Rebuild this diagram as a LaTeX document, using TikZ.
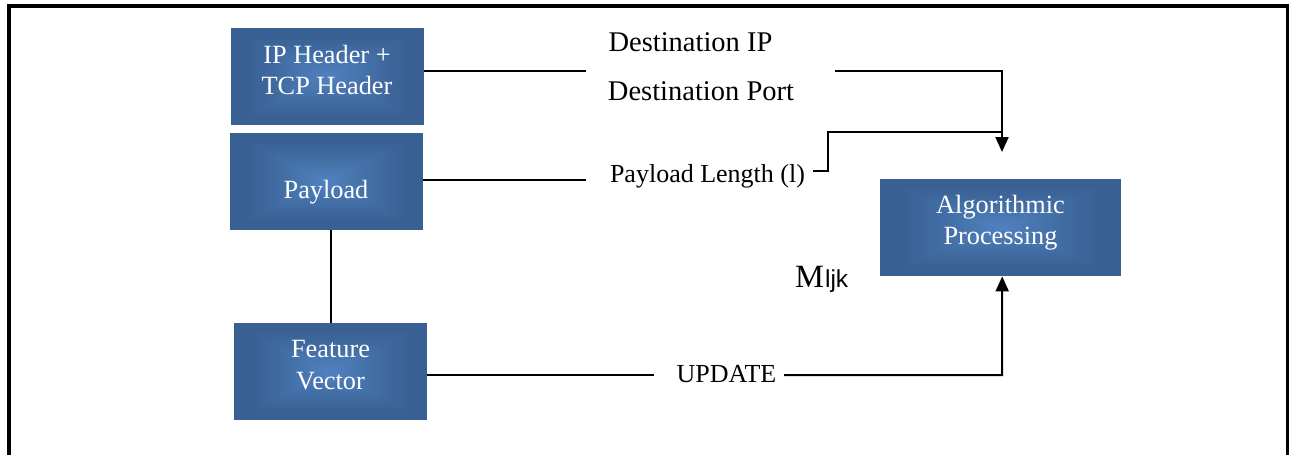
\documentclass[tikz,border=0pt]{standalone}
\usepackage{fontspec}
\setmainfont{Liberation Serif}
\newfontfamily\subsans{Liberation Sans}
\usetikzlibrary{arrows.meta,calc}

\definecolor{boxedge}{RGB}{56,96,146}
\definecolor{boxmid}{RGB}{80,129,191}

\tikzset{
  % blue block with a rectangular gradient lighter towards the middle
  blockbox/.style={rectangle, inner sep=0pt, anchor=north west,
    minimum height=97pt, fill=boxedge,
    path picture={
      \foreach \k in {1,...,40}{
        \pgfmathsetmacro{\s}{1-\k/40}
        \pgfmathtruncatemacro{\c}{min(100,100*\s*1.2)}
        \fill[boxedge!\c!boxmid]
          ($(path picture bounding box.center)!\s!(path picture bounding box.south west)$)
          rectangle
          ($(path picture bounding box.center)!\s!(path picture bounding box.north east)$);
      }
    }},
  blocktext/.style={anchor=base, inner sep=0pt, text=white,
    font=\fontsize{26.3}{31}\selectfont},
  linetext/.style={anchor=base, inner sep=0pt, text=black},
  conn/.style={line width=2pt, draw=black},
  tip/.style={-{Triangle[length=15pt,width=13pt]}},
}

\begin{document}
\begin{tikzpicture}[x=1pt, y=-1pt]
\useasboundingbox (0,0) rectangle (1289,455);

% open frame round the figure
\draw[line width=3.6pt] (9,455) -- (9,5.7) -- (1289,5.7);
\draw[line width=2.4pt] (1287.3,5.7) -- (1287.3,455);

% blocks
\node[blockbox, minimum width=193pt] (ip)  at (231,28)  {};
\node[blockbox, minimum width=193pt] (pay) at (230,133) {};
\node[blockbox, minimum width=193pt] (fv)  at (234,323) {};
\node[blockbox, minimum width=241pt] (alg) at (880,179) {};

% block captions
\node[blocktext] (ipT1)  at (327,63)    {IP Header +};
\node[blocktext] (ipT2)  at (327,94.3)  {TCP Header};
\node[blocktext] (payT)  at (326,198.3) {Payload};
\node[blocktext] (fvT1)  at (330.5,357.3) {Feature};
\node[blocktext] (fvT2)  at (330.5,389)   {Vector};
\node[blocktext] (algT1) at (1000.5,213.3) {Algorithmic};
\node[blocktext] (algT2) at (1000.5,244)   {Processing};

% labels along the connectors
\node[linetext, font=\fontsize{28.5}{32}\selectfont] (dip)   at (690.5,51.5) {Destination IP};
\node[linetext, font=\fontsize{28.5}{32}\selectfont] (dport) at (701,100)    {Destination Port};
\node[linetext, font=\fontsize{26}{30}\selectfont]   (plen)  at (707.5,182.7) {Payload Length (l)};
\node[linetext, font=\fontsize{26}{30}\selectfont]   (upd)   at (726.5,382.7) {UPDATE};
\node[linetext, anchor=base west] (mljk) at (795,287)
  {\fontsize{32.5}{36}\selectfont M\kern1pt\subsans\fontsize{24.5}{28}\selectfont ljk};

% connector waypoints
\coordinate (ipA)  at (586,71);
\coordinate (ipB)  at (835,71);
\coordinate (ipC)  at (1002,71);
\coordinate (ipTip) at (1002,152);
\coordinate (plA)  at (586,180);
\coordinate (plB)  at (813,171);
\coordinate (plC)  at (828,171);
\coordinate (plD)  at (828,132);
\coordinate (plE)  at (1002,132);
\coordinate (upA)  at (654,375);
\coordinate (upB)  at (784,375);
\coordinate (upC)  at (1002,375);
\coordinate (algIn) at ([xshift=1.5pt]alg.south);

% connectors
\draw[conn] (ip.east |- ipA) -- (ipA);
\draw[conn, tip] (ipB) -- (ipC) -- (ipTip);
\draw[conn] (pay.east |- plA) -- (plA);
\draw[conn] (plB) -- (plC) -- (plD) -- (plE);
\draw[conn] (fv.north) -- (fv.north |- pay.south);
\draw[conn] (fv.east |- upA) -- (upA);
\draw[conn, tip] (upB) -- (upC) -- (algIn);
\end{tikzpicture}
\end{document}
